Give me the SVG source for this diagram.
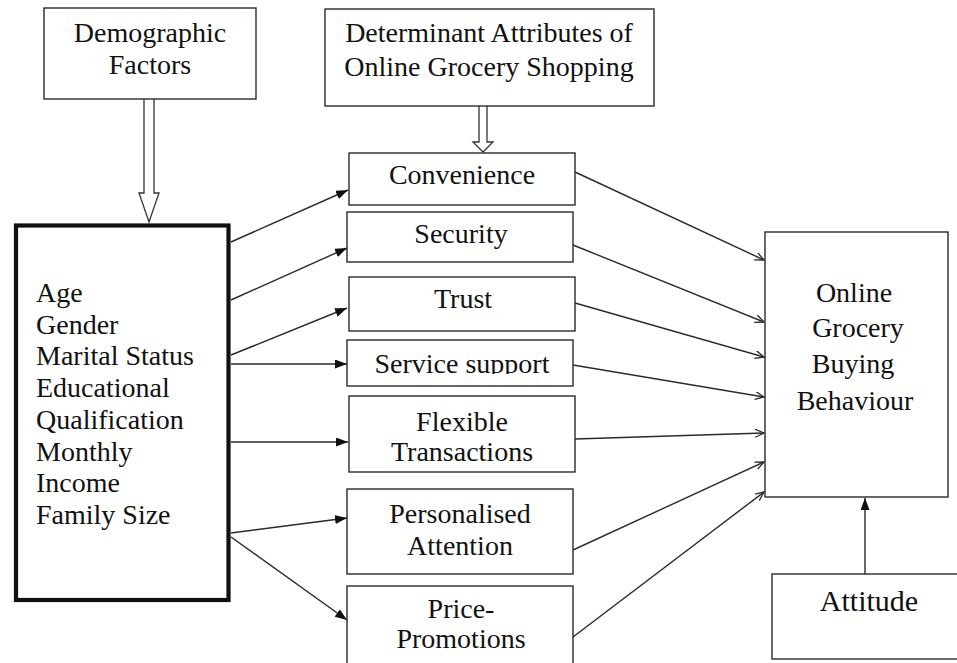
<svg xmlns="http://www.w3.org/2000/svg" width="957" height="663" viewBox="0 0 957 663">
<style>
.box{fill:#fff;stroke:#2a2a2a;stroke-width:1.4}
.thick{fill:#fff;stroke:#111;stroke-width:4.2}
.t{font-family:"Liberation Serif","Times New Roman",serif;font-size:28px;fill:#111}
.c{text-anchor:middle}
.ln{stroke:#2a2a2a;stroke-width:1.4;fill:none}
.hollow{fill:#fff;stroke:#333;stroke-width:1.3}
</style>
<defs>
<marker id="fill" markerUnits="userSpaceOnUse" markerWidth="13" markerHeight="10" refX="12" refY="4.5" orient="auto">
<path d="M0,0 L12,4.5 L0,9 z" fill="#111"/>
</marker>
<marker id="open" markerUnits="userSpaceOnUse" markerWidth="10" markerHeight="9" refX="9" refY="4" orient="auto">
<path d="M0,0 L9,4 L0,8" fill="none" stroke="#2a2a2a" stroke-width="1.3"/>
</marker>
<clipPath id="svcclip"><rect x="349" y="341" width="222" height="33"/></clipPath>
</defs>

<g id="connectors">
<path class="hollow" d="M144,99 L144,193 L139,193 L149,222 L159,193 L154,193 L154,99"/>
<path class="hollow" d="M479,106 L479,142 L473,142 L483,152 L493,142 L487,142 L487,106"/>
<line class="ln" x1="231" y1="242" x2="348" y2="190" marker-end="url(#fill)"/>
<line class="ln" x1="231" y1="300" x2="347" y2="248" marker-end="url(#fill)"/>
<line class="ln" x1="231" y1="355" x2="347" y2="308" marker-end="url(#fill)"/>
<line class="ln" x1="231" y1="364" x2="347" y2="364" marker-end="url(#fill)"/>
<line class="ln" x1="231" y1="442" x2="348" y2="442" marker-end="url(#fill)"/>
<line class="ln" x1="231" y1="533" x2="347" y2="518" marker-end="url(#fill)"/>
<line class="ln" x1="231" y1="537" x2="347" y2="620" marker-end="url(#fill)"/>
<line class="ln" x1="575" y1="172" x2="764" y2="260" marker-end="url(#open)"/>
<line class="ln" x1="573" y1="245" x2="764" y2="322" marker-end="url(#open)"/>
<line class="ln" x1="575" y1="303" x2="764" y2="357" marker-end="url(#open)"/>
<line class="ln" x1="573" y1="365" x2="764" y2="397" marker-end="url(#open)"/>
<line class="ln" x1="575" y1="439" x2="764" y2="433" marker-end="url(#open)"/>
<line class="ln" x1="573" y1="550" x2="764" y2="462" marker-end="url(#open)"/>
<line class="ln" x1="573" y1="637" x2="764" y2="492" marker-end="url(#open)"/>
<line class="ln" x1="865" y1="574" x2="865" y2="498" marker-end="url(#fill)"/>
</g>

<g id="demographic">
<rect class="box" x="44" y="8" width="212" height="91"/>
<text class="t c" x="150" y="42">Demographic</text>
<text class="t c" x="150" y="74">Factors</text>
</g>

<g id="determinant">
<rect class="box" x="325" y="9" width="329" height="97"/>
<text class="t c" x="489" y="42">Determinant Attributes of</text>
<text class="t c" x="489" y="76">Online Grocery Shopping</text>
</g>

<g id="factors">
<rect class="thick" x="16" y="225.5" width="212.5" height="374.5"/>
<text class="t" x="36" y="302">Age</text>
<text class="t" x="36" y="334">Gender</text>
<text class="t" x="36" y="365">Marital Status</text>
<text class="t" x="36" y="397">Educational</text>
<text class="t" x="36" y="428.5">Qualification</text>
<text class="t" x="36" y="460.5">Monthly</text>
<text class="t" x="36" y="492">Income</text>
<text class="t" x="36" y="523.5">Family Size</text>
</g>

<g id="convenience">
<rect class="box" x="349" y="153" width="226" height="52"/>
<text class="t c" x="462" y="184">Convenience</text>
</g>

<g id="security">
<rect class="box" x="347" y="212" width="226" height="50"/>
<text class="t c" x="461" y="243">Security</text>
</g>

<g id="trust">
<rect class="box" x="349" y="277" width="226" height="54"/>
<text class="t c" x="463" y="308">Trust</text>
</g>

<g id="service">
<rect class="box" x="347" y="340" width="226" height="46"/>
<text class="t c" x="462" y="373" clip-path="url(#svcclip)">Service support</text>
</g>

<g id="flexible">
<rect class="box" x="349" y="396" width="226" height="76"/>
<text class="t c" x="462" y="431">Flexible</text>
<text class="t c" x="462" y="461">Transactions</text>
</g>

<g id="personalised">
<rect class="box" x="347" y="489" width="226" height="85"/>
<text class="t c" x="460" y="523">Personalised</text>
<text class="t c" x="460" y="555">Attention</text>
</g>

<g id="price">
<rect class="box" x="347" y="586" width="226" height="90"/>
<text class="t c" x="461" y="618">Price-</text>
<text class="t c" x="461" y="648">Promotions</text>
</g>

<g id="behaviour">
<rect class="box" x="765" y="232" width="183" height="265"/>
<text class="t c" x="854" y="302">Online</text>
<text class="t c" x="858" y="337">Grocery</text>
<text class="t c" x="853" y="373">Buying</text>
<text class="t c" x="855" y="410">Behaviour</text>
</g>

<g id="attitude">
<rect class="box" x="772" y="574" width="200" height="85"/>
<text class="t c" x="869" y="611" style="font-size:30px">Attitude</text>
</g>
</svg>
